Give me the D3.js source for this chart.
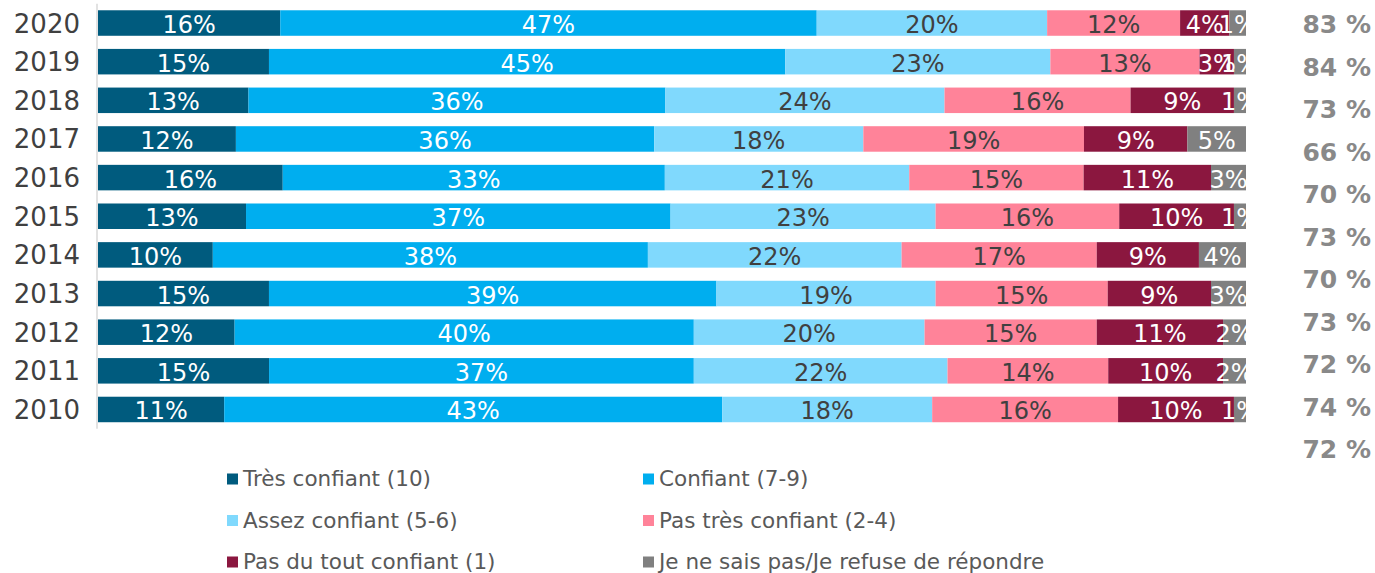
<!DOCTYPE html>
<html>
<head>
<meta charset="utf-8">
<script src="https://cdn.jsdelivr.net/npm/d3@7"></script>
<style>
  body { margin: 0; background: #fff; }
  svg text { font-family: "DejaVu Sans", Verdana, sans-serif; }
</style>
</head>
<body>
<div id="chart"></div>
<script>
// years, top to bottom
var years = ["2020", "2019", "2018", "2017", "2016", "2015", "2014", "2013", "2012", "2011", "2010"];

// share of answers per year (%)
var tresConfiant   = [15.9, 14.9, 13.1, 12.0, 16.1, 12.9, 10.0, 14.9, 11.9, 14.9, 11.0];
var confiant       = [46.8, 45.0, 36.3, 36.4, 33.3, 37.0, 37.9, 39.0, 40.0, 37.0, 43.4];
var assezConfiant  = [20.1, 23.1, 24.3, 18.2, 21.3, 23.1, 22.1, 19.1, 20.1, 22.1, 18.3];
var pasTres        = [11.6, 13.0, 16.2, 19.2, 15.2, 16.0, 17.0, 15.0, 15.0, 14.0, 16.2];
var pasDuTout      = [4.3, 3.0, 9.0, 9.0, 11.1, 10.0, 8.9, 9.0, 11.0, 10.0, 10.1];
var nsp            = [1.45, 1.05, 1.05, 5.1, 3.05, 1.05, 4.1, 3.05, 2.0, 2.0, 1.05];

// labels of the right column (as printed)
var totalLabels = ["83 %", "84 %", "73 %", "66 %", "70 %", "73 %", "70 %", "73 %", "72 %", "74 %", "72 %"];

var seriesNames = ["Très confiant (10)", "Confiant (7-9)", "Assez confiant (5-6)",
                   "Pas très confiant (2-4)", "Pas du tout confiant (1)", "Je ne sais pas/Je refuse de répondre"];
var seriesColors = ["#005b7e", "#00aeef", "#80d9fd", "#ff8399", "#8b173f", "#808080"];
var labelColors  = ["#fff", "#fff", "#404040", "#404040", "#fff", "#fff"];

var width = 1375, height = 573;
var x0 = 98, x1 = 1246;

var svg = d3.select("#chart").append("svg")
    .attr("width", width)
    .attr("height", height);

var allSeries = [tresConfiant, confiant, assezConfiant, pasTres, pasDuTout, nsp];

// one row per year, normalized to 100 (100% stacked bars)
var rows = years.map(function(y, i) {
    var row = {year: y};
    var tot = d3.sum(allSeries, function(s) { return s[i]; });
    allSeries.forEach(function(s, k) { row["s" + k] = s[i] / tot * 100; row["raw" + k] = s[i]; });
    return row;
});
var keys = allSeries.map(function(s, k) { return "s" + k; });
var stacked = d3.stack().keys(keys)(rows);

var x = d3.scaleLinear().domain([0, 100]).range([x0, x1]);
var y = d3.scaleBand().domain(years).range([3.7, 428.8]).paddingInner(0.34).paddingOuter(0.17);

// vertical axis line
svg.append("line")
    .attr("x1", 97).attr("x2", 97)
    .attr("y1", y.range()[0]).attr("y2", y.range()[1])
    .attr("stroke", "#d9d9d9").attr("stroke-width", 1.5);

// year labels
svg.append("g").selectAll("text")
    .data(years)
    .enter().append("text")
    .attr("x", 80)
    .attr("y", function(d) { return y(d) + y.bandwidth() / 2 + 9.5; })
    .attr("text-anchor", "end")
    .attr("font-size", 26)
    .attr("fill", "#404040")
    .text(function(d) { return d; });

// bars
var layers = svg.append("g").selectAll("g")
    .data(stacked)
    .enter().append("g")
    .attr("fill", function(d, k) { return seriesColors[k]; });

layers.selectAll("rect")
    .data(function(d) { return d; })
    .enter().append("rect")
    .attr("x", function(d) { return x(d[0]); })
    .attr("y", function(d) { return y(d.data.year); })
    .attr("width", function(d) { return x(d[1]) - x(d[0]); })
    .attr("height", y.bandwidth());

// segment labels, clipped at the end of the plot
svg.append("clipPath").attr("id", "plotClip")
    .append("rect").attr("x", 0).attr("y", 0).attr("width", x1).attr("height", height);

var labelLayers = svg.append("g").attr("clip-path", "url(#plotClip)")
    .selectAll("g")
    .data(stacked)
    .enter().append("g")
    .attr("fill", function(d, k) { return labelColors[k]; });

labelLayers.selectAll("text")
    .data(function(d) { return d.map(function(p) { p.key = d.key; return p; }); })
    .enter().append("text")
    .attr("x", function(d) { return (x(d[0]) + x(d[1])) / 2; })
    .attr("y", function(d) { return y(d.data.year) + y.bandwidth() / 2 + 10; })
    .attr("text-anchor", "middle")
    .attr("font-size", 24)
    .text(function(d) { return Math.round(d.data["raw" + d.key.slice(1)]) + "%"; });

// right column (printed apart from the bars)
var yTot = d3.scalePoint().domain(d3.range(totalLabels.length)).range([24.3, 449]);
svg.append("g").selectAll("text")
    .data(totalLabels)
    .enter().append("text")
    .attr("x", 1371)
    .attr("y", function(d, i) { return yTot(i) + 9; })
    .attr("text-anchor", "end")
    .attr("font-size", 25)
    .attr("font-weight", "bold")
    .attr("fill", "#898989")
    .text(function(d) { return d; });

// legend
var legend = svg.append("g").selectAll("g")
    .data(seriesNames)
    .enter().append("g")
    .attr("transform", function(d, i) {
        return "translate(" + (i % 2 == 0 ? 227 : 643) + "," + (486 + Math.floor(i / 2) * 41.5) + ")";
    });

legend.append("rect")
    .attr("x", 0).attr("y", -12.5)
    .attr("width", 11).attr("height", 11)
    .attr("fill", function(d, i) { return seriesColors[i]; });

legend.append("text")
    .attr("x", 16).attr("y", 0)
    .attr("font-size", 21.5)
    .attr("fill", "#595959")
    .text(function(d) { return d; });
</script>
</body>
</html>
